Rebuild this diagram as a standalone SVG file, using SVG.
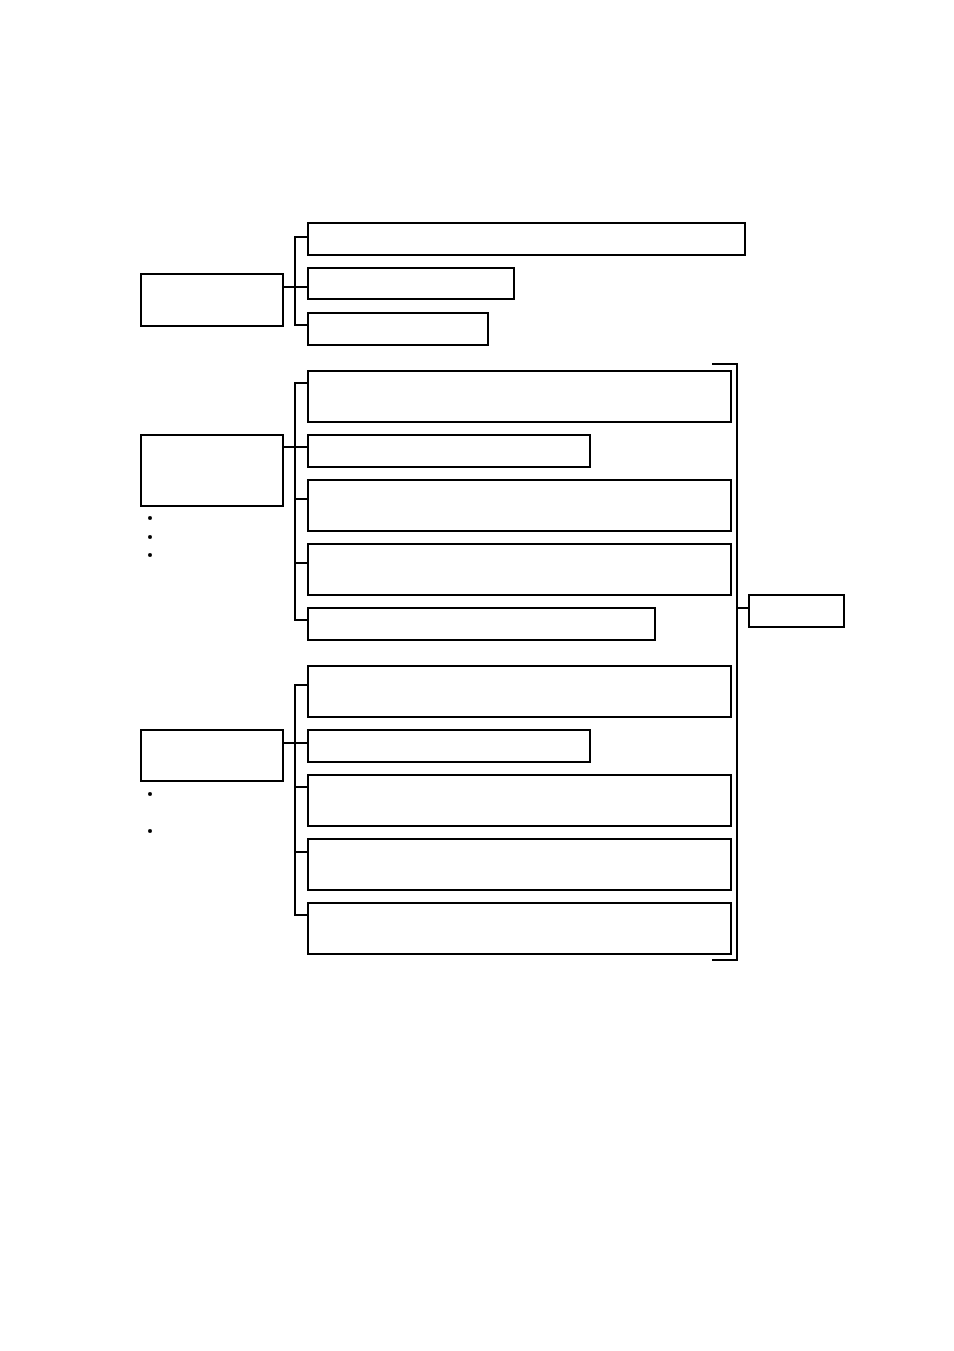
<svg xmlns="http://www.w3.org/2000/svg" width="954" height="1351" viewBox="0 0 954 1351">
<style>
rect{fill:#fff;stroke:#000;stroke-width:2}
.c{fill:none;stroke:#000;stroke-width:2}
.b{fill:#000}
</style>
<rect x="0" y="0" width="954" height="1351" style="stroke:none"/>
<g id="connectors">
<path class="c" d="M308,237H295V325H308M283,287H308"/>
<path class="c" d="M308,383H295V620H308M283,447H308M295,499H308M295,563H308"/>
<path class="c" d="M308,685H295V915H308M283,743H308M295,787H308M295,852H308"/>
<path class="c" d="M712,364H737V960H712M737,608H749"/>
</g>
<g id="nodeA"><rect x="141" y="274" width="142" height="52"/></g>
<g id="a1"><rect x="308" y="223" width="437" height="32"/></g>
<g id="a2"><rect x="308" y="268" width="206" height="31"/></g>
<g id="a3"><rect x="308" y="313" width="180" height="32"/></g>
<g id="nodeB"><rect x="141" y="435" width="142" height="71"/></g>
<g id="b1"><rect x="308" y="371" width="423" height="51"/></g>
<g id="b2"><rect x="308" y="435" width="282" height="32"/></g>
<g id="b3"><rect x="308" y="480" width="423" height="51"/></g>
<g id="b4"><rect x="308" y="544" width="423" height="51"/></g>
<g id="b5"><rect x="308" y="608" width="347" height="32"/></g>
<g id="nodeC"><rect x="141" y="730" width="142" height="51"/></g>
<g id="c1"><rect x="308" y="666" width="423" height="51"/></g>
<g id="c2"><rect x="308" y="730" width="282" height="32"/></g>
<g id="c3"><rect x="308" y="775" width="423" height="51"/></g>
<g id="c4"><rect x="308" y="839" width="423" height="51"/></g>
<g id="c5"><rect x="308" y="903" width="423" height="51"/></g>
<g id="nodeD"><rect x="749" y="595" width="95" height="32"/></g>
<g id="bullets">
<circle class="b" cx="150" cy="518" r="2"/>
<circle class="b" cx="150" cy="537" r="2"/>
<circle class="b" cx="150" cy="555" r="2"/>
<circle class="b" cx="150" cy="794" r="2"/>
<circle class="b" cx="150" cy="831" r="2"/>
</g>
</svg>
